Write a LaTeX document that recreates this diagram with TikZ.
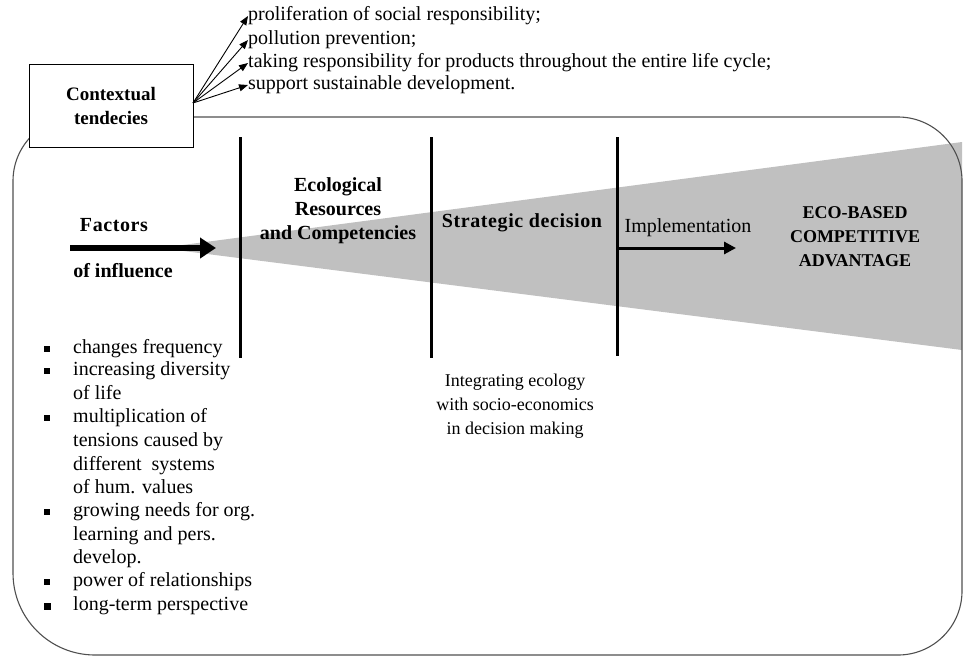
\documentclass[tikz,border=0pt]{standalone}
\usepackage{fontspec}
\setmainfont{Liberation Serif}
\usetikzlibrary{arrows.meta}
\definecolor{wedgegray}{RGB}{192,192,192}
\definecolor{outlinegray}{RGB}{80,80,80}
\begin{document}
\begin{tikzpicture}[x=1pt,y=-1pt,
  txt/.style={inner sep=0pt, text height=14pt, text depth=4.5pt, font=\fontsize{20}{23.4}\selectfont},
  ctxt/.style={inner sep=0pt, align=center, font=\fontsize{18}{24}\selectfont},
  btxt/.style={inner sep=0pt, align=center, font=\fontsize{20}{24}\selectfont\bfseries},
  sbtxt/.style={inner sep=0pt, align=center, font=\fontsize{20}{24}\selectfont\bfseries\addfontfeatures{LetterSpace=3}},
  capstxt/.style={inner sep=0pt, align=center, font=\fontsize{18}{24}\selectfont\bfseries},
  vbar/.style={line width=3pt},
  thinarrow/.style={-{Triangle[length=9pt,width=7pt]}, line width=0.9pt},
  bullet/.style={fill=black, rectangle, minimum size=6pt, inner sep=0pt},
  outline/.style={draw=outlinegray, line width=1.1pt},
]
\useasboundingbox (0,0) rectangle (965,659);
% grey wedge
\fill[wedgegray] (160,248) -- (962,142) -- (962,350) -- cycle;
% rounded outline
\draw[outline] (193,117) [rounded corners=64pt] -- (962,117) -- (962,655) [rounded corners=82pt] -- (13,655) [rounded corners=64pt] -- (13,117) -- (193,117);
% contextual box
\node[draw, line width=0.9pt, fill=white, minimum width=164pt, minimum height=83pt, inner sep=0pt,
      align=center, font=\fontsize{19}{24}\selectfont\bfseries] (ctx) at (111,105.5) {Contextual\\tendecies};
% tendency texts
\node[txt, anchor=west] (t1) at (248,16) {proliferation of social responsibility;};
\node[txt, anchor=west] (t2) at (248,40) {pollution prevention;};
\node[txt, anchor=west] (t3) at (248,63) {taking responsibility for products throughout the entire life cycle;};
\node[txt, anchor=west] (t4) at (248,85) {support sustainable development.};
\coordinate (src) at (193,103);
\draw[thinarrow] (src) -- (t1.west);
\draw[thinarrow] (src) -- (t2.west);
\draw[thinarrow] (src) -- (t3.west);
\draw[thinarrow] (src) -- (t4.west);
% vertical bars
\coordinate (v1t) at (240,137); \coordinate (v1b) at (240,358);
\coordinate (v2t) at (431,137); \coordinate (v2b) at (431,358);
\coordinate (v3t) at (617,137); \coordinate (v3b) at (617,356);
\draw[vbar] (v1t) -- (v1b);
\draw[vbar] (v2t) -- (v2b);
\draw[vbar] (v3t) -- (v3b);
% factors arrow
\node[sbtxt] (fac) at (114,225) {Factors};
\node[btxt] (inf) at (123,271) {of influence};
\coordinate (fa1) at (70,248);
\coordinate (fa2) at (216,248);
\draw[line width=6pt, -{Triangle[length=16pt,width=20pt]}] (fa1) -- (fa2);
% stage labels
\node[btxt] (eco) at (338,211) {Ecological\\Resources\\and Competencies};
\node[sbtxt] (strat) at (522,223) {Strategic decision};
\node[txt] (impl) at (688,228) {Implementation};
\coordinate (ia1) at (617,248);
\coordinate (ia2) at (736,248);
\draw[line width=3pt, -{Triangle[length=12pt,width=12pt]}] (ia1) -- (ia2);
\node[capstxt] (adv) at (855,237) {ECO-BASED\\COMPETITIVE\\ADVANTAGE};
\node[ctxt] (integ) at (515,406) {Integrating ecology\\with socio-economics\\in decision making};
% bullet list
\node[bullet] (b1) at (47,349) {};
\node[txt, anchor=west] (l1) at (73,349) {changes frequency};
\node[bullet] (b2) at (47,371) {};
\node[txt, anchor=west] (l2) at (73,371) {increasing diversity};
\node[txt, anchor=west] (l3) at (73,395) {of life};
\node[bullet] (b3) at (47,418) {};
\node[txt, anchor=west] (l4) at (73,418) {multiplication of};
\node[txt, anchor=west] (l5) at (73,442) {tensions caused by};
\node[txt, anchor=west] (l6) at (73,466) {different\ \ systems};
\node[txt, anchor=west] (l7) at (73,489) {of hum. values};
\node[bullet] (b4) at (47,512) {};
\node[txt, anchor=west] (l8) at (73,512) {growing needs for org.};
\node[txt, anchor=west] (l9) at (73,536) {learning and pers.};
\node[txt, anchor=west] (l10) at (73,559) {develop.};
\node[bullet] (b5) at (47,582) {};
\node[txt, anchor=west] (l11) at (73,582) {power of relationships};
\node[bullet, minimum size=7pt] (b6) at (47,606) {};
\node[txt, anchor=west] (l12) at (73,606) {long-term perspective};
\end{tikzpicture}
\end{document}
